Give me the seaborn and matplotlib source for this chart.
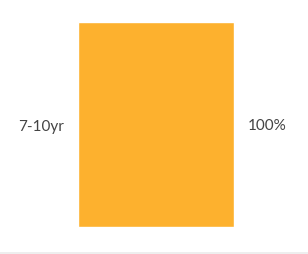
import matplotlib
matplotlib.use("Agg")
import matplotlib.pyplot as plt
import seaborn as sns
import pandas as pd
from matplotlib.patches import Rectangle

categories = ["7-10yr"]
values = [100]
value_labels = ["100%"]

sns.set_theme(style="white")
plt.rcParams['font.family'] = ['Lato', 'DejaVu Sans']

df = pd.DataFrame({"cat": categories, "val": values})

fig = plt.figure(figsize=(3.08, 2.55), dpi=100)
ax = fig.add_axes([78/308, (255-228)/255, (234-78)/308, (228-23)/255])
sns.barplot(data=df, x="val", y="cat", orient="h", color="#FDB12E", width=1.0,
            saturation=1, ax=ax)
ax.set_xlim(0, 100)
ax.set_ylim(0.5, -0.5)
ax.set_xlabel("")
ax.set_ylabel("")
ax.set_xticks([])
ax.tick_params(axis="y", length=0, pad=10, labelsize=11, labelcolor="#444444")
for s in ax.spines.values():
    s.set_visible(False)
for i, (v, lab) in enumerate(zip(values, value_labels)):
    ax.annotate(lab, xy=(v, i), xytext=(10, 0), textcoords="offset points",
                ha="left", va="center", fontsize=11, color="#444444",
                annotation_clip=False)
fig.patches.append(Rectangle((0, 0), 1, 2/255, transform=fig.transFigure,
                             facecolor="#eeeeee", edgecolor="none"))
fig.savefig("out.png", dpi=100)
